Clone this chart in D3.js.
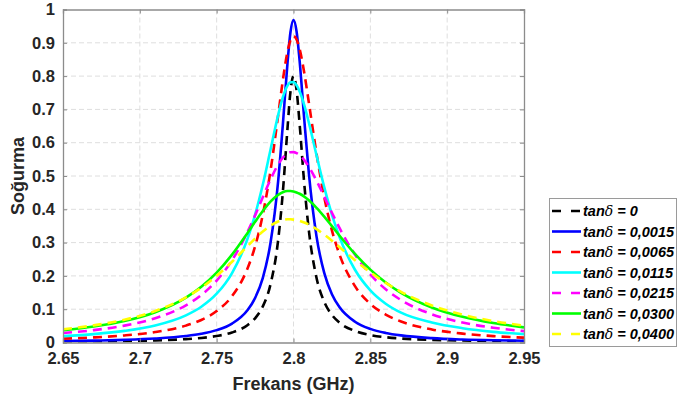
<!DOCTYPE html>
<html lang="tr">
<head>
  <meta charset="UTF-8">
  <title>Soğurma - Frekans</title>
  <script src="https://d3js.org/d3.v7.min.js"></script>
  <style>
    body {
      margin: 0;
      background: #fff;
      font-family: "Liberation Sans", Arial, sans-serif;
    }
  </style>
</head>
<body>
<script>
const width = 681;
const height = 398;

// frequency points (GHz)
const freq = [2.65, 2.67, 2.69, 2.71, 2.73, 2.74, 2.75, 2.76, 2.77, 2.775, 2.78, 2.785, 2.79, 2.793, 2.796, 2.798,
  2.8, 2.802, 2.804, 2.807, 2.81, 2.815, 2.82, 2.825, 2.83, 2.84, 2.85, 2.86, 2.87, 2.89, 2.91, 2.93, 2.95];

const tan0 = [0.0022, 0.0029, 0.0041, 0.0061, 0.0101, 0.0136, 0.0195, 0.0300, 0.0519, 0.0726, 0.108, 0.174, 0.307, 0.448, 0.637, 0.752,
  0.800, 0.758, 0.655, 0.477, 0.336, 0.194, 0.122, 0.0829, 0.0594, 0.0346, 0.0225, 0.0160, 0.0120, 0.0078, 0.0058, 0.0048, 0.0042];
const tan0015 = [0.0043, 0.0057, 0.0079, 0.0118, 0.0194, 0.0262, 0.0372, 0.0569, 0.0968, 0.1335, 0.1936, 0.298, 0.484, 0.650, 0.834, 0.931,
  0.968, 0.934, 0.845, 0.670, 0.508, 0.318, 0.209, 0.145, 0.1056, 0.0624, 0.0409, 0.0288, 0.0213, 0.0130, 0.0089, 0.0066, 0.0052];
const tan0065 = [0.0115, 0.0153, 0.0212, 0.0313, 0.0507, 0.0676, 0.0943, 0.1393, 0.2216, 0.2886, 0.3832, 0.5146, 0.6814, 0.7853, 0.8712, 0.9073,
  0.920, 0.9099, 0.881, 0.810, 0.720, 0.567, 0.4364, 0.3368, 0.2634, 0.1694, 0.1161, 0.0839, 0.0631, 0.0392, 0.0267, 0.0192, 0.0145];
const tan0115 = [0.0190, 0.0252, 0.0348, 0.0510, 0.0814, 0.1072, 0.1464, 0.2086, 0.3103, 0.3833, 0.4735, 0.5779, 0.6828, 0.7351, 0.7704, 0.7816,
  0.7818, 0.7723, 0.7540, 0.7129, 0.6602, 0.5618, 0.4666, 0.3839, 0.3160, 0.2184, 0.1566, 0.1165, 0.0895, 0.0600, 0.0430, 0.0320, 0.0250];
const tan0215 = [0.0283, 0.0371, 0.0507, 0.0728, 0.1117, 0.1426, 0.1859, 0.2470, 0.3311, 0.3818, 0.4359, 0.4891, 0.5345, 0.5547, 0.5676, 0.5715,
  0.5716, 0.5685, 0.5623, 0.5477, 0.5278, 0.4859, 0.4382, 0.3896, 0.3434, 0.2643, 0.2042, 0.1599, 0.1274, 0.0849, 0.0600, 0.0444, 0.0341];
const tan0300 = [0.0366, 0.0478, 0.0645, 0.0910, 0.1349, 0.1675, 0.2099, 0.2640, 0.3284, 0.3623, 0.3947, 0.4228, 0.4435, 0.4512, 0.4548, 0.4548,
  0.4534, 0.4507, 0.4466, 0.4382, 0.4272, 0.4046, 0.3781, 0.3496, 0.3207, 0.2659, 0.2188, 0.1801, 0.1492, 0.1052, 0.0770, 0.0583, 0.0455];
const tan0400 = [0.0398, 0.0514, 0.0685, 0.0946, 0.1357, 0.1645, 0.2001, 0.2424, 0.2890, 0.3119, 0.3330, 0.3506, 0.3632, 0.3677, 0.3699, 0.3699,
  0.3691, 0.3675, 0.3652, 0.3603, 0.3539, 0.3404, 0.3239, 0.3056, 0.2862, 0.2472, 0.2108, 0.1790, 0.1521, 0.1113, 0.0835, 0.0643, 0.0507];

const seriesValues = [tan0, tan0015, tan0065, tan0115, tan0215, tan0300, tan0400];
const seriesLabels = ["0", "0,0015", "0,0065", "0,0115", "0,0215", "0,0300", "0,0400"];
const seriesColors = ["#000000", "#0000ff", "#ff0000", "#00ffff", "#ff00ff", "#00ff00", "#ffff00"];
const seriesDashed = [true, false, true, false, true, false, true];

const xTicks = [2.65, 2.7, 2.75, 2.8, 2.85, 2.9, 2.95];
const yTicks = [0, 0.1, 0.2, 0.3, 0.4, 0.5, 0.6, 0.7, 0.8, 0.9, 1];

const margin = {left: 63, right: 157, top: 9.5, bottom: 55.5};

const svg = d3.select("body").append("svg")
  .attr("width", width)
  .attr("height", height)
  .attr("viewBox", [0, 0, width, height]);

const x = d3.scaleLinear().domain([2.65, 2.95]).range([margin.left, width - margin.right]);
const y = d3.scaleLinear().domain([0, 1]).range([height - margin.bottom, margin.top]);

const textColor = "#262626";
const axisColor = "#8c8c8c";

// grid
const grid = svg.append("g").attr("stroke", "#dedede").attr("stroke-width", 1).attr("stroke-dasharray", "5,3");
grid.selectAll(".gx")
  .data(xTicks.slice(1, -1))
  .join("line")
  .attr("x1", d => x(d)).attr("x2", d => x(d))
  .attr("y1", y(0)).attr("y2", y(1));
grid.selectAll(".gy")
  .data(yTicks.slice(1, -1))
  .join("line")
  .attr("x1", x(2.65)).attr("x2", x(2.95))
  .attr("y1", d => y(d)).attr("y2", d => y(d));

// curves
svg.append("clipPath").attr("id", "clip")
  .append("rect")
  .attr("x", x(2.65)).attr("y", y(1))
  .attr("width", x(2.95) - x(2.65)).attr("height", y(0) - y(1));

const line = d3.line()
  .x((d, i) => x(freq[i]))
  .y(d => y(d))
  .curve(d3.curveMonotoneX);

svg.append("g")
  .attr("clip-path", "url(#clip)")
  .selectAll("path")
  .data(seriesValues)
  .join("path")
  .attr("fill", "none")
  .attr("stroke", (d, i) => seriesColors[i])
  .attr("stroke-width", 2.6)
  .attr("stroke-dasharray", (d, i) => seriesDashed[i] ? "9,6" : null)
  .attr("d", line);

// axes (box with inward ticks)
const tickLen = 4;
const bottomAxis = d3.axisBottom(x).tickValues(xTicks).tickSize(-tickLen).tickFormat(d3.format("~g")).tickPadding(10);
const topAxis = d3.axisTop(x).tickValues(xTicks).tickSize(-tickLen).tickFormat("");
const leftAxis = d3.axisLeft(y).tickValues(yTicks).tickSize(-tickLen).tickFormat(d3.format("~g")).tickPadding(8);
const rightAxis = d3.axisRight(y).tickValues(yTicks).tickSize(-tickLen).tickFormat("");

function styleAxis(g) {
  g.selectAll(".domain").attr("stroke", axisColor).attr("stroke-width", 1.3);
  g.selectAll(".tick line").attr("stroke", axisColor).attr("stroke-width", 1);
  g.selectAll(".tick text")
    .attr("fill", textColor)
    .style("font-family", "'Liberation Sans', Arial, sans-serif")
    .style("font-size", "16.5px")
    .style("font-weight", "bold");
}

svg.append("g").attr("transform", `translate(0,${y(0)})`).call(bottomAxis).call(styleAxis);
svg.append("g").attr("transform", `translate(0,${y(1)})`).call(topAxis).call(styleAxis);
svg.append("g").attr("transform", `translate(${x(2.65)},0)`).call(leftAxis).call(styleAxis);
svg.append("g").attr("transform", `translate(${x(2.95)},0)`).call(rightAxis).call(styleAxis);

// axis titles
svg.append("text")
  .attr("x", (x(2.65) + x(2.95)) / 2)
  .attr("y", 390)
  .attr("text-anchor", "middle")
  .attr("fill", textColor)
  .style("font-size", "18px")
  .style("font-weight", "bold")
  .text("Frekans (GHz)");

svg.append("text")
  .attr("transform", `translate(24,${(y(0) + y(1)) / 2}) rotate(-90)`)
  .attr("text-anchor", "middle")
  .attr("fill", textColor)
  .style("font-size", "18px")
  .style("font-weight", "bold")
  .text("Soğurma");

// legend
const legend = svg.append("g");
legend.append("rect")
  .attr("x", 549.5).attr("y", 198.5)
  .attr("width", 127).attr("height", 148)
  .attr("fill", "#fff")
  .attr("stroke", "#9a9a9a")
  .attr("stroke-width", 1);

const rowY = i => 211 + i * 20.5;

legend.selectAll("line")
  .data(seriesLabels)
  .join("line")
  .attr("x1", 552).attr("x2", 581)
  .attr("y1", (d, i) => rowY(i)).attr("y2", (d, i) => rowY(i))
  .attr("stroke", (d, i) => seriesColors[i])
  .attr("stroke-width", 2.6)
  .attr("stroke-dasharray", (d, i) => seriesDashed[i] ? "9,10" : null);

const labels = legend.selectAll("text")
  .data(seriesLabels)
  .join("text")
  .attr("x", 583)
  .attr("y", (d, i) => rowY(i) + 5)
  .attr("fill", "#000")
  .style("font-size", "14.5px")
  .style("font-weight", "bold")
  .style("font-style", "italic");

labels.append("tspan").text("tan");
labels.append("tspan")
  .style("font-family", "'DejaVu Serif', serif")
  .style("font-weight", "normal")
  .style("font-size", "14px")
  .text("δ");
labels.append("tspan").text(d => " = " + d);
</script>
</body>
</html>
